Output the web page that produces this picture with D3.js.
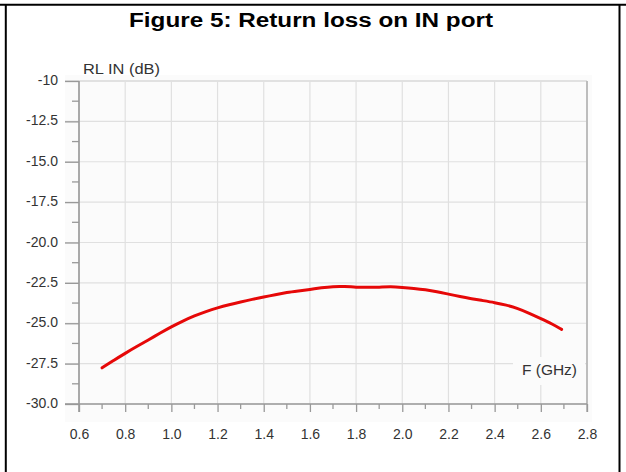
<!DOCTYPE html>
<html>
<head>
<meta charset="utf-8">
<script src="https://cdn.jsdelivr.net/npm/d3@7"></script>
<style>
  body { margin: 0; background: #fff; }
  svg { display: block; font-family: "Liberation Sans", Arial, sans-serif; }
</style>
</head>
<body>
<svg id="chart" width="626" height="472"></svg>
<script>
// frequency (GHz) and return loss (dB)
var freq = [0.70, 0.75, 0.80, 0.85, 0.90, 0.95, 1.00, 1.05, 1.10, 1.15, 1.20, 1.25, 1.30, 1.35,
            1.40, 1.45, 1.50, 1.55, 1.60, 1.65, 1.70, 1.75, 1.80, 1.85, 1.90, 1.95, 2.00, 2.05,
            2.10, 2.15, 2.20, 2.25, 2.30, 2.35, 2.40, 2.45, 2.50, 2.55, 2.60, 2.65, 2.69];
var rlIn = [-27.76, -27.30, -26.86, -26.44, -26.04, -25.62, -25.22, -24.86, -24.54, -24.27, -24.04, -23.85, -23.68, -23.52,
            -23.38, -23.23, -23.09, -23.00, -22.91, -22.80, -22.72, -22.72, -22.77, -22.78, -22.77, -22.73, -22.78, -22.84,
            -22.92, -23.04, -23.20, -23.35, -23.48, -23.60, -23.72, -23.87, -24.08, -24.38, -24.71, -25.05, -25.38];

var xTicks = [0.6, 0.8, 1.0, 1.2, 1.4, 1.6, 1.8, 2.0, 2.2, 2.4, 2.6, 2.8];
var xMinor = [0.7, 0.9, 1.1, 1.3, 1.5, 1.7, 1.9, 2.1, 2.3, 2.5, 2.7];
var yTicks = [-10, -12.5, -15, -17.5, -20, -22.5, -25, -27.5, -30];
var yLabels = ["-10", "-12.5", "-15.0", "-17.5", "-20.0", "-22.5", "-25.0", "-27.5", "-30.0"];
var yMinor = [-11.25, -13.75, -16.25, -18.75, -21.25, -23.75, -26.25, -28.75];

var titleText = "Figure 5: Return loss on IN port";
var yName = "RL IN (dB)";
var xName = "F (GHz)";

(function(){

    var svg = d3.select("#chart"),
        margin = { top: 81, right: 39, bottom: 68, left: 79 },
        width = svg.attr("width") - margin.left - margin.right,
        height = svg.attr("height") - margin.top - margin.bottom;

    // outer frame (cut off at the bottom, like the scan)
    svg.append("line").attr("x1", 0).attr("x2", 626).attr("y1", 4.8).attr("y2", 4.8)
        .attr("stroke", "#000").attr("stroke-width", 2);
    svg.append("line").attr("x1", 5.8).attr("x2", 5.8).attr("y1", 4).attr("y2", 472)
        .attr("stroke", "#000").attr("stroke-width", 2);
    svg.append("line").attr("x1", 619.5).attr("x2", 619.5).attr("y1", 4).attr("y2", 472)
        .attr("stroke", "#000").attr("stroke-width", 2);

    // title is wider than plain Arial bold in the scan
    svg.append("text")
        .attr("x", 129).attr("y", 26.5)
        .attr("textLength", 364).attr("lengthAdjust", "spacingAndGlyphs")
        .style("font-size", "19.5px").style("font-weight", "bold")
        .attr("fill", "#000")
        .text(titleText);

    var g = svg.append("g").attr("transform", "translate(" + margin.left + "," + margin.top + ")");

    var x = d3.scaleLinear().domain([0.6, 2.8]).range([0, width]),
        y = d3.scaleLinear().domain([-10, -30]).range([0, height]);

    // faint panel behind the plot
    g.append("rect")
        .attr("x", -14).attr("y", -6)
        .attr("width", width + 19).attr("height", height + 24)
        .attr("fill", "#fbfbfb");

    // grid
    g.selectAll(".hgrid").data(yTicks).enter().append("line")
        .attr("class", "hgrid")
        .attr("x1", -14).attr("x2", width)
        .attr("y1", function (d) { return y(d); }).attr("y2", function (d) { return y(d); })
        .attr("stroke", function (d) { return d === -10 ? "#c8c8c8" : "#e0e0e0"; })
        .attr("stroke-width", 1.2);

    g.selectAll(".vgrid").data(xTicks).enter().append("line")
        .attr("class", "vgrid")
        .attr("x1", function (d) { return x(d); }).attr("x2", function (d) { return x(d); })
        .attr("y1", 0).attr("y2", height)
        .attr("stroke", "#e0e0e0")
        .attr("stroke-width", 1.2);

    // right frame of plot
    g.append("line").attr("x1", width).attr("x2", width).attr("y1", 0).attr("y2", height + 8)
        .attr("stroke", "#b8b8b8").attr("stroke-width", 1.8);

    // box behind the x-axis name hides the grid
    g.append("rect")
        .attr("x", 434).attr("y", 276)
        .attr("width", 72).attr("height", 28)
        .attr("fill", "#fbfbfb");

    // y axis
    var yAxis = g.append("g").attr("class", "axis axis--y")
        .call(d3.axisLeft(y).tickValues(yTicks).tickSize(14).tickPadding(7)
            .tickFormat(function (d, i) { return yLabels[i]; }));
    yAxis.select(".domain").remove();
    yAxis.selectAll(".tick line").attr("stroke", "#999").attr("stroke-width", 1.3);
    yAxis.selectAll(".tick text")
        .attr("dy", "0.25em")
        .attr("fill", "#333").style("font-size", "14px")
        .style("font-family", "'Liberation Sans', Arial, sans-serif");

    g.selectAll(".yminor").data(yMinor).enter().append("line")
        .attr("class", "yminor")
        .attr("x1", -7).attr("x2", 0)
        .attr("y1", function (d) { return y(d); }).attr("y2", function (d) { return y(d); })
        .attr("stroke", "#999").attr("stroke-width", 1.3);

    g.append("line").attr("x1", 0).attr("x2", 0).attr("y1", 0).attr("y2", height + 8)
        .attr("stroke", "#999").attr("stroke-width", 1.6);

    // x axis
    var xAxis = g.append("g").attr("class", "axis axis--x")
        .attr("transform", "translate(0," + height + ")")
        .call(d3.axisBottom(x).tickValues(xTicks).tickSize(8).tickPadding(17)
            .tickFormat(d3.format(".1f")));
    xAxis.select(".domain").remove();
    xAxis.selectAll(".tick line").attr("stroke", "#999").attr("stroke-width", 1.3);
    xAxis.selectAll(".tick text")
        .attr("fill", "#333").style("font-size", "14px")
        .style("font-family", "'Liberation Sans', Arial, sans-serif");

    g.selectAll(".xminor").data(xMinor).enter().append("line")
        .attr("class", "xminor")
        .attr("x1", function (d) { return x(d); }).attr("x2", function (d) { return x(d); })
        .attr("y1", height).attr("y2", height + 5)
        .attr("stroke", "#999").attr("stroke-width", 1.3);

    g.append("line").attr("x1", -14).attr("x2", width).attr("y1", height).attr("y2", height)
        .attr("stroke", "#999").attr("stroke-width", 1.6);

    // axis names
    g.append("text")
        .attr("x", 4).attr("y", -7)
        .attr("textLength", 77).attr("lengthAdjust", "spacingAndGlyphs")
        .attr("fill", "#333").style("font-size", "14px")
        .text(yName);

    g.append("text")
        .attr("x", 443).attr("y", 294)
        .attr("textLength", 55).attr("lengthAdjust", "spacingAndGlyphs")
        .attr("fill", "#333").style("font-size", "14.5px")
        .text(xName);

    // curve
    var line = d3.line()
        .curve(d3.curveBasis)
        .x(function (d) { return x(d[0]); })
        .y(function (d) { return y(d[1]); });

    g.append("path")
        .datum(d3.zip(freq, rlIn))
        .attr("fill", "none")
        .attr("stroke", "#e60808")
        .attr("stroke-width", 3)
        .attr("stroke-linecap", "round")
        .attr("d", line);

})();
</script>
</body>
</html>
